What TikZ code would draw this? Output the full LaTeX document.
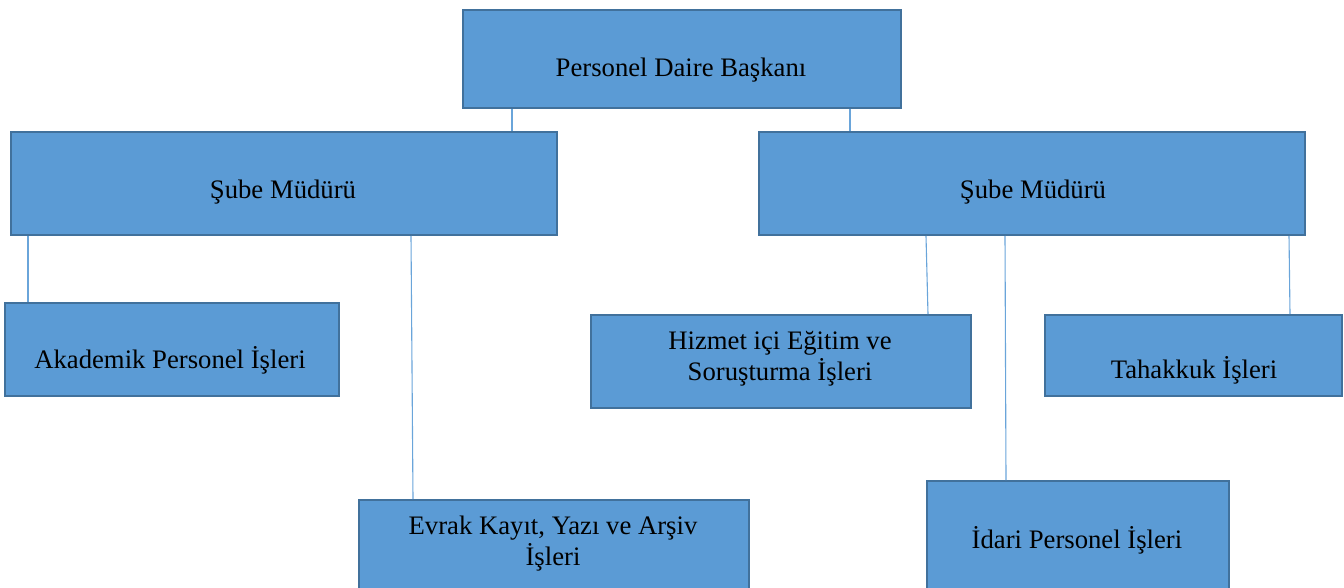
\documentclass[tikz,border=0pt]{standalone}
\usepackage{fontspec}
\setmainfont{Liberation Serif}
\definecolor{boxfill}{HTML}{5B9BD5}
\definecolor{boxline}{HTML}{41719C}
\definecolor{conn}{HTML}{6AA5DA}
\tikzset{
  orgbox/.style={draw=boxline, line width=2pt, fill=boxfill, anchor=north west, inner sep=0pt},
  lbl/.style={anchor=base, inner sep=0pt, font=\fontsize{26.7}{31}\selectfont, align=center, text=black},
  link/.style={draw=conn, line width=1.1pt}
}
\begin{document}
\begin{tikzpicture}[x=1pt,y=1pt]
\useasboundingbox (0,0) rectangle (1344,-588);
\clip (0,0) rectangle (1344,-588);
% boxes
\node[orgbox, minimum width=438pt, minimum height=98pt] (top) at (462,-9) {};
\node[orgbox, minimum width=546pt, minimum height=103pt] (ls) at (10,-131) {};
\node[orgbox, minimum width=546pt, minimum height=103pt] (rs) at (758,-131) {};
\node[orgbox, minimum width=334pt, minimum height=93pt] (ak) at (4,-302) {};
\node[orgbox, minimum width=390pt, minimum height=100pt] (ev) at (358,-499) {};
\node[orgbox, minimum width=380pt, minimum height=93pt] (hz) at (590,-314) {};
\node[orgbox, minimum width=297pt, minimum height=81pt] (th) at (1044,-314) {};
\node[orgbox, minimum width=302pt, minimum height=120pt] (id) at (926,-480) {};
% labels
\node[lbl] (ttop) at (681,-77) {Personel Daire Başkanı};
\node[lbl] (tls) at (283,-199) {Şube Müdürü};
\node[lbl] (trs) at (1033,-199) {Şube Müdürü};
\node[lbl] (tak) at (170,-368) {Akademik Personel İşleri};
\node[lbl, anchor=center] (tev) at (553,-544) {Evrak Kayıt, Yazı ve Arşiv\\İşleri};
\node[lbl, anchor=center] (thz) at (780,-359) {Hizmet içi Eğitim ve\\Soruşturma İşleri};
\node[lbl] (tth) at (1194,-378) {Tahakkuk İşleri};
\node[lbl] (tid) at (1077,-548) {İdari Personel İşleri};
% connectors
\draw[link] ([xshift=50pt]top.south west) -- ([xshift=502pt]ls.north west);
\draw[link] ([xshift=388pt]top.south west) -- ([xshift=92pt]rs.north west);
\draw[link] ([xshift=18pt]ls.south west) -- ([xshift=24pt]ak.north west);
\draw[link] ([xshift=401pt]ls.south west) -- ([xshift=55pt]ev.north west);
\draw[link] ([xshift=168pt]rs.south west) -- ([xshift=338pt]hz.north west);
\draw[link] ([xshift=247pt]rs.south west) -- ([xshift=80pt]id.north west);
\draw[link] ([xshift=531pt]rs.south west) -- ([xshift=246pt]th.north west);
\end{tikzpicture}
\end{document}
